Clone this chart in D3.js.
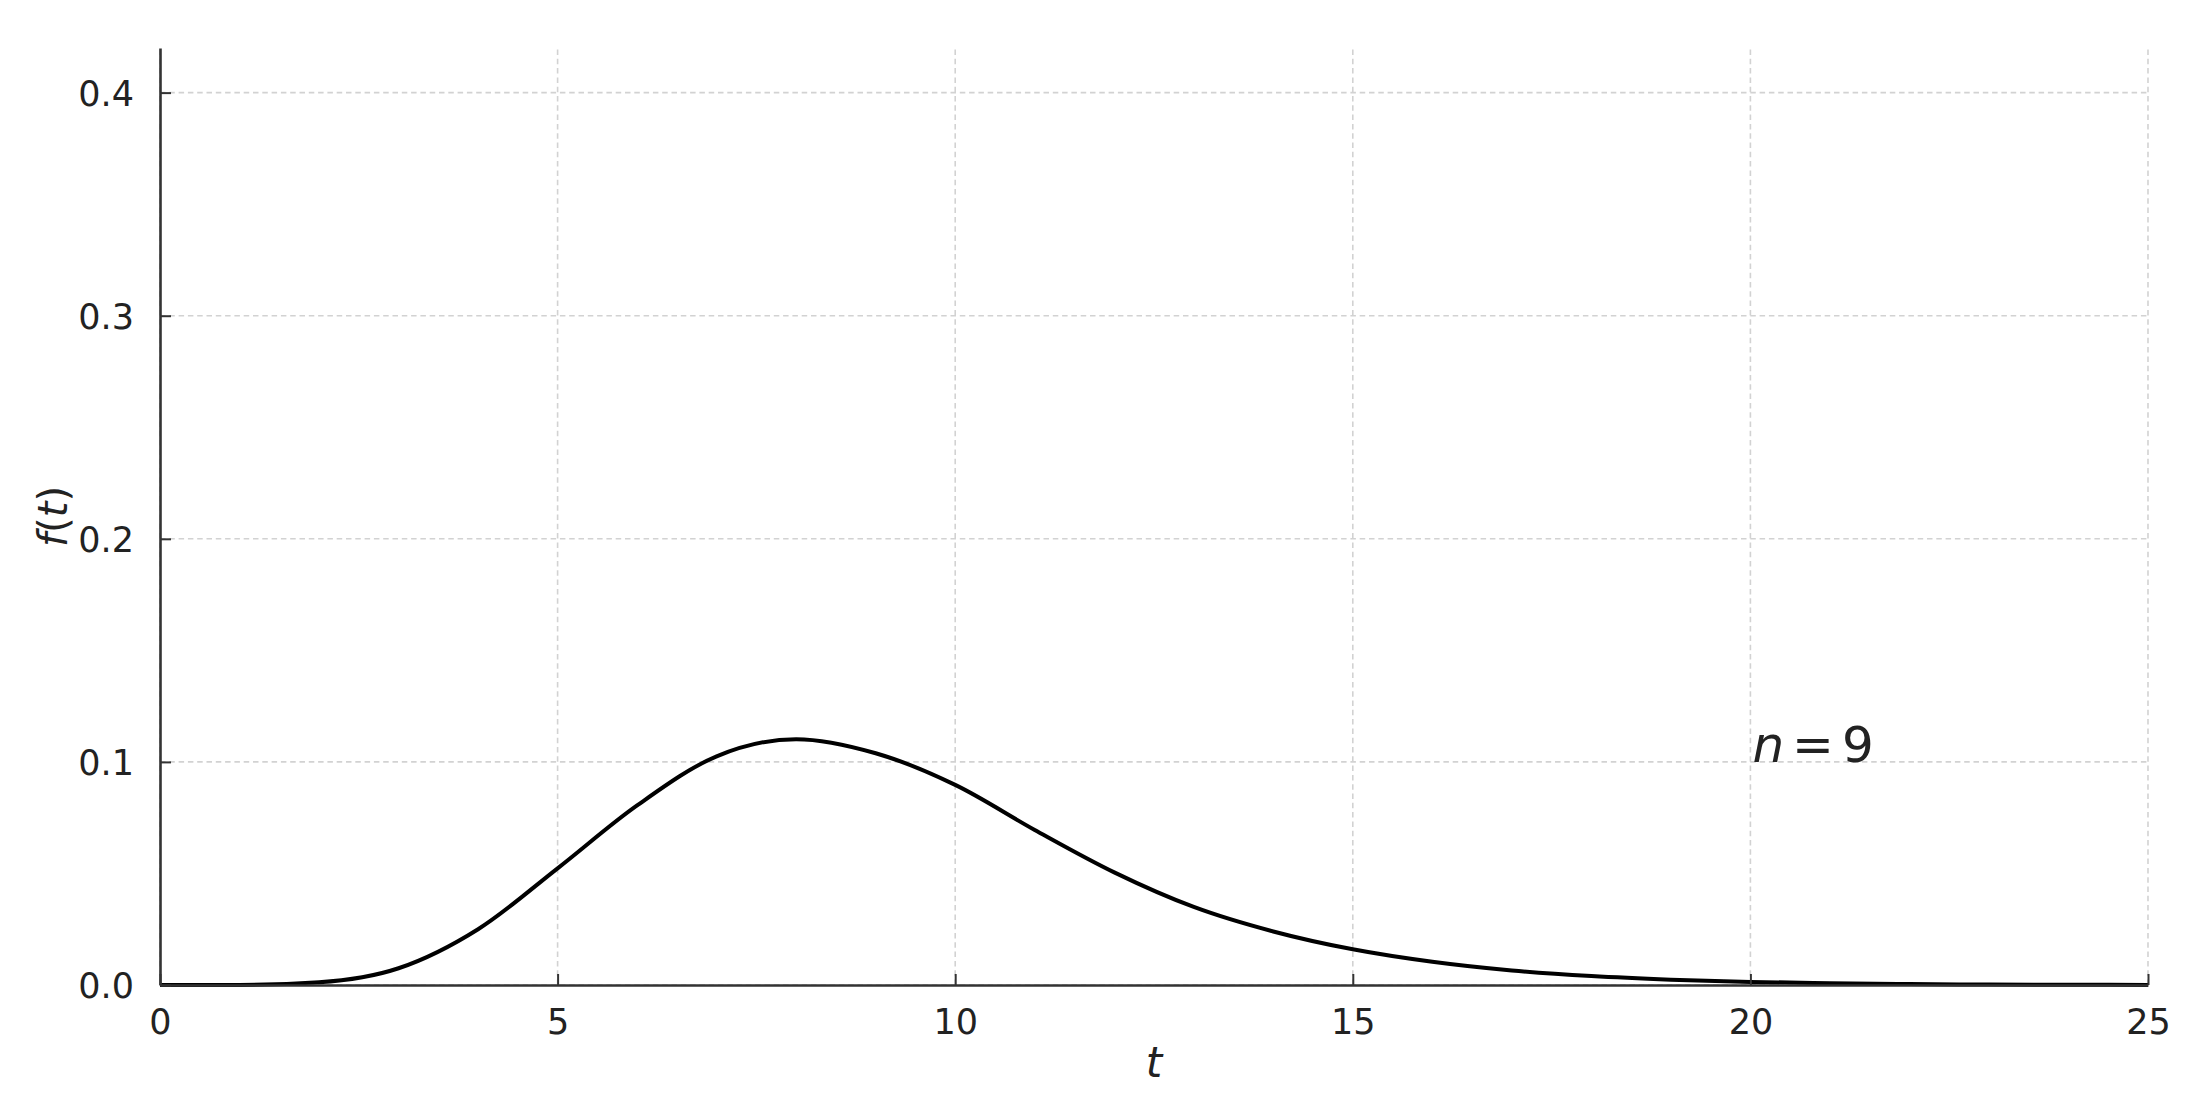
<!DOCTYPE html>
<html>
<head>
<meta charset="utf-8">
<script src="https://cdn.jsdelivr.net/npm/d3@7"></script>
<style>
  html, body { margin: 0; padding: 0; background: #ffffff; }
  svg { display: block; }
  text { font-family: "DejaVu Sans", sans-serif; }
</style>
</head>
<body>
<svg id="chart" width="2202" height="1110"></svg>
<script>
// ---- data ----
const tValues = [0, 1, 2, 3, 4, 5, 6, 7, 8, 9, 10, 11, 12, 13, 14, 15, 16, 17, 18, 19, 20, 21, 22, 23, 24, 25];
const fValues = [0, 0.00002, 0.0012, 0.0075, 0.025, 0.0523, 0.0805, 0.1025, 0.1102, 0.1039, 0.0897, 0.0695, 0.0505, 0.0350, 0.0240, 0.0160, 0.0104, 0.0065, 0.0040, 0.0024, 0.0014, 0.0008, 0.0004, 0.0002, 0.0001, 0.00005];
const xTicks = [0, 5, 10, 15, 20, 25];
const yTicks = [0.0, 0.1, 0.2, 0.3, 0.4];
const xDomain = [0, 25];
const yDomain = [0, 0.42];
const annotationT = 20;
const annotationF = 0.1;
const annotationN = "9";
const xLabel = "t";

// ---- layout ----
const svg = d3.select("#chart");
const mLeft = 160, mRight = 2148, mTop = 48, mBottom = 985;

const x = d3.scaleLinear().domain(xDomain).range([mLeft, mRight]);
const y = d3.scaleLinear().domain(yDomain).range([mBottom, mTop]);

// grid
const grid = svg.append("g");
grid.selectAll("line.vg").data(xTicks).enter().append("line")
  .attr("class", "vg")
  .attr("x1", d => x(d)).attr("x2", d => x(d))
  .attr("y1", mBottom).attr("y2", mTop)
  .attr("stroke", "#d2d2d2").attr("stroke-width", 1.6)
  .attr("stroke-dasharray", "5.5,3.8");
grid.selectAll("line.hg").data(yTicks).enter().append("line")
  .attr("class", "hg")
  .attr("x1", mLeft).attr("x2", mRight)
  .attr("y1", d => y(d)).attr("y2", d => y(d))
  .attr("stroke", "#d2d2d2").attr("stroke-width", 1.6)
  .attr("stroke-dasharray", "5.5,3.8");

// curve
const pts = tValues.map((t, i) => [t, fValues[i]]);
const line = d3.line().x(d => x(d[0])).y(d => y(d[1])).curve(d3.curveMonotoneX);
svg.append("path").datum(pts)
  .attr("d", line)
  .attr("fill", "none")
  .attr("stroke", "#000")
  .attr("stroke-width", 4)
  .attr("stroke-linejoin", "round");

// axes
const xAxis = d3.axisBottom(x).tickValues(xTicks).tickFormat(d3.format("d"))
  .tickSizeInner(-11).tickSizeOuter(0).tickPadding(24);
const yAxis = d3.axisLeft(y).tickValues(yTicks).tickFormat(d3.format(".1f"))
  .tickSizeInner(-11).tickSizeOuter(0).tickPadding(26);

const gx = svg.append("g").attr("transform", `translate(0,${mBottom})`).call(xAxis);
const gy = svg.append("g").attr("transform", `translate(${mLeft},0)`).call(yAxis);

[gx, gy].forEach(g => {
  g.select(".domain").attr("stroke", "#333").attr("stroke-width", 2.6);
  g.selectAll(".tick line").attr("stroke", "#333").attr("stroke-width", 2);
  g.selectAll(".tick text")
    .attr("fill", "#222")
    .style("font-family", "'DejaVu Sans', sans-serif")
    .style("font-size", "35px");
});
gx.selectAll(".tick text").attr("dy", "0.71em");
gy.selectAll(".tick text").attr("dy", "0.36em");

// axis labels
svg.append("text")
  .attr("x", (mLeft + mRight) / 2)
  .attr("y", 1077)
  .attr("text-anchor", "middle")
  .attr("fill", "#222")
  .style("font-size", "42px")
  .style("font-style", "italic")
  .text(xLabel);

const yl = svg.append("text")
  .attr("transform", `translate(67,${(mTop + mBottom) / 2}) rotate(-90)`)
  .attr("text-anchor", "middle")
  .attr("fill", "#222")
  .style("font-size", "40px");
yl.append("tspan").style("font-style", "italic").text("f");
yl.append("tspan").text("(");
yl.append("tspan").style("font-style", "italic").text("t");
yl.append("tspan").text(")");

// annotation
const ann = svg.append("text")
  .attr("x", x(annotationT) + 2)
  .attr("y", y(annotationF))
  .attr("fill", "#222")
  .style("font-size", "50px");
ann.append("tspan").style("font-style", "italic").text("n");
ann.append("tspan").attr("dx", 8).text("=");
ann.append("tspan").attr("dx", 8).text(annotationN);
</script>
</body>
</html>
